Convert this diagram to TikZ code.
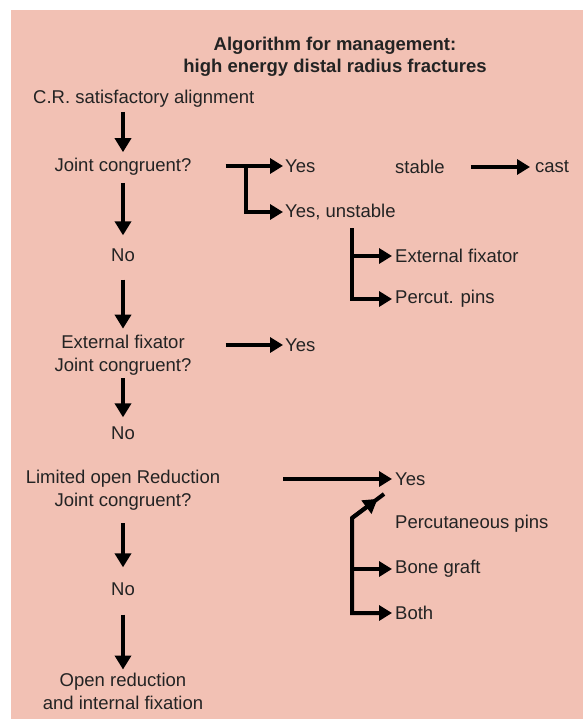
\documentclass[tikz,border=0pt]{standalone}
\usepackage{fontspec}
\setmainfont{Liberation Sans}
\usetikzlibrary{arrows.meta,calc}
\definecolor{salmon}{RGB}{242,193,180}
\definecolor{ink}{RGB}{35,35,35}

\tikzset{
  txt/.style={font=\fontsize{18.5}{23}\selectfont, text=ink, inner sep=0pt, align=center},
  flow/.style={draw=black, line width=4pt, -{Triangle[length=13pt,width=15pt]}},
  down/.style={draw=black, line width=4.5pt, -{Triangle[length=14pt,width=16pt]}},
}

\begin{document}
\begin{tikzpicture}[x=1pt,y=-1pt]
  \useasboundingbox (0,0) rectangle (583,719);
  \fill[white] (0,0) rectangle (583,719);
  \fill[salmon] (11,10) rectangle (583,719);

  % heading
  \node[txt, font=\fontsize{18.5}{22}\selectfont\bfseries] (title) at (335,57)
    {Algorithm for management:\\high energy distal radius fractures};

  % left column
  \node[txt, anchor=west] (cr) at (33,99) {C.R. satisfactory alignment};
  \node[txt] (jc1) at (123,167) {Joint congruent?};
  \node[txt] (no1) at (123,255) {No};
  \node[txt] (exjc) at (123,355) {External fixator\\Joint congruent?};
  \node[txt] (no2) at (123,433) {No};
  \node[txt] (lor) at (123,490) {Limited open Reduction\\Joint congruent?};
  \node[txt] (no3) at (123,589) {No};
  \node[txt] (orif) at (123,691) {Open reduction\\and internal fixation};

  % right hand outcomes
  \node[txt, anchor=west] (yes1) at (285,166) {Yes};
  \node[txt, anchor=west] (yesu) at (285,212) {Yes, unstable};
  \node[txt, anchor=west] (stable) at (395,167) {stable};
  \node[txt, anchor=west] (cast) at (535,167) {cast};
  \node[txt, anchor=west] (exfix) at (395,256) {External fixator};
  \node[txt, anchor=west] (pins) at (395,299) {Percut. pins};
  \node[txt, anchor=west] (yes2) at (285,345) {Yes};
  \node[txt, anchor=west] (yes3) at (395,479) {Yes};
  \node[txt, anchor=west] (perc) at (395,524) {Percutaneous pins};
  \node[txt, anchor=west] (graft) at (395,569) {Bone graft};
  \node[txt, anchor=west] (both) at (395,613) {Both};

  % down the left column
  \draw[down, shorten <=4pt, shorten >=6pt] (cr.south -| jc1.north) -- (jc1.north);
  \draw[down, shorten <=7pt, shorten >=13pt] (jc1) -- (no1);
  \draw[down, shorten <=18pt, shorten >=6pt] (no1) -- (exjc);
  \draw[down, shorten <=3pt, shorten >=9pt] (exjc) -- (no2);
  \draw[down, shorten <=13pt, shorten >=15pt] (lor) -- (no3);
  \draw[down, shorten <=19pt, shorten >=3pt] (no3) -- (orif);

  % first fork
  \draw[flow] ($(yes1.west -| jc1.east)+(34pt,0)$) -- ([xshift=-2pt]yes1.west);
  \coordinate (fork1) at ($(yes1.west -| jc1.east)+(54pt,0)$);
  \draw[flow] (fork1) |- ([xshift=-2pt]yesu.west);
  \draw[flow] ($(stable.east)+(26pt,0)$) -- ([xshift=-5pt]cast.west);

  % unstable: fixator or pins
  \coordinate (fork2) at (352,228);
  \draw[flow] (fork2) |- ([xshift=-3pt]pins.west);
  \draw[flow] (fork2 |- exfix.west) -- ([xshift=-3pt]exfix.west);

  \draw[flow] ($(yes2.west -| exjc.east)+(34pt,0)$) -- ([xshift=-2pt]yes2.west);
  \draw[flow] ($(yes3.west -| lor.east)+(63pt,0)$) -- ([xshift=-3pt]yes3.west);

  % after limited open reduction
  \coordinate (fork3) at (352,518);
  \coordinate (kink) at (384,494);
  \draw[flow] (kink) -- (fork3) |- ([xshift=-3pt]both.west);
  \draw[flow] (fork3 |- graft.west) -- ([xshift=-3pt]graft.west);
  \draw[flow, -{Triangle[length=14pt,width=16pt]}] (fork3) -- ($(fork3)!0.8!(kink)$);
\end{tikzpicture}
\end{document}
